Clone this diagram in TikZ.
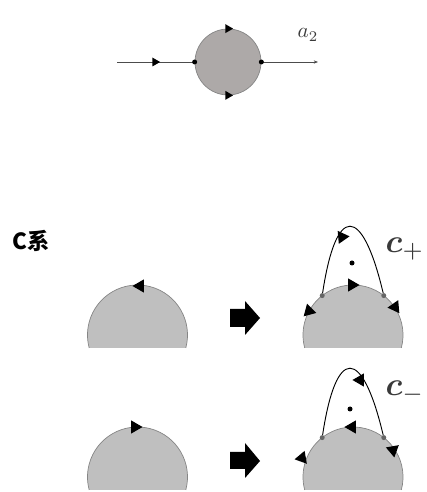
\documentclass[tikz,border=0pt]{standalone}
\usepackage{fontspec}
\usepackage{amsmath}
\newfontfamily\cjk{Noto Sans CJK SC}
\usetikzlibrary{shapes.geometric,arrows.meta}
\definecolor{blobA}{HTML}{ADA9A8}
\definecolor{blobB}{HTML}{BFBFBF}
\definecolor{rim}{HTML}{858585}
\definecolor{ink}{HTML}{3A3A3A}
\tikzset{
  tri/.style={isosceles triangle,isosceles triangle apex angle=60,fill=black,inner sep=0pt,minimum size=3.4mm},
  smalltri/.style={tri,minimum size=2.3mm},
  knot/.style={circle,fill=#1,inner sep=0pt,minimum size=1.5mm},
  wire/.style={draw=black!70,line width=0.5pt},
  loop/.style={draw=black,line width=0.8pt},
  biglabel/.style={text=ink,inner sep=0pt},
}
\begin{document}
\begin{tikzpicture}[x=0.3mm,y=0.3mm]
\useasboundingbox (0,0) rectangle (426,492);

% top
\coordinate (in) at (117,430);
\coordinate (out) at (318,430);
\node[circle,draw=rim,fill=blobA,line width=0.6pt,minimum size=19.8mm,inner sep=0pt] (S) at (228,430) {};
\draw[wire] (in) -- (S.west);
\draw[wire,-{Stealth[length=1.3mm,width=1mm]}] (S.east) -- (out);
\node[knot=black] (s1) at (S.west) {};
\node[knot=black] (s2) at (S.east) {};
\node[smalltri] (t1) at (155,430) {};
\node[smalltri] (t2) at (S.north) {};
\node[smalltri] (t3) at (S.south) {};
\node[biglabel] (a2) at (308,457) {\scalebox{1.8}{$a_2$}};

\node[font=\cjk\bfseries\fontsize{19}{22}\selectfont] (sys) at (31,251) {C系};

% C+
\coordinate (L1) at (137.5,157);
\coordinate (R1) at (353,157);
\fill[blobB] ([shift={(-15:50)}]L1) arc (-15:195:50) -- cycle;
\draw[rim,line width=0.6pt] ([shift={(-15:50)}]L1) arc (-15:195:50);
\fill[blobB] ([shift={(-15:50)}]R1) arc (-15:195:50) -- cycle;
\draw[rim,line width=0.6pt] ([shift={(-15:50)}]R1) arc (-15:195:50);
\node[tri,rotate=180] (u1) at (140,206) {};
\fill (230,165) -- (245,165) -- (245,157) -- (260,174) -- (245,191) -- (245,183) -- (230,183) -- cycle;
\node[knot=black!60] (p1) at ([shift={(128:50)}]R1) {};
\node[knot=black!60] (p2) at ([shift={(52:50)}]R1) {};
\draw[loop] (p1) .. controls (336,288) and (362,288) .. (p2);
\node[tri,rotate=245] (u2) at (342,255) {};
\node[knot=black] (d1) at (352,229) {};
\node[tri] (u3) at (352,207) {};
\node[tri,rotate=225] (u4) at (309,181) {};
\node[tri,rotate=-55] (u5) at (395,185) {};
\node[biglabel] (cp) at (405,243) {\scalebox{2.8}{$\boldsymbol{c}_+$}};

% C-
\coordinate (L2) at (137.5,15);
\coordinate (R2) at (353,15);
\fill[blobB] ([shift={(-15:50)}]L2) arc (-15:195:50) -- cycle;
\draw[rim,line width=0.6pt] ([shift={(-15:50)}]L2) arc (-15:195:50);
\fill[blobB] ([shift={(-15:50)}]R2) arc (-15:195:50) -- cycle;
\draw[rim,line width=0.6pt] ([shift={(-15:50)}]R2) arc (-15:195:50);
\node[tri] (v1) at (135,65) {};
\fill (230,23) -- (245,23) -- (245,14) -- (260,31) -- (245,49) -- (245,40) -- (230,40) -- cycle;
\node[knot=black!60] (q1) at ([shift={(128:50)}]R2) {};
\node[knot=black!60] (q2) at ([shift={(52:50)}]R2) {};
\draw[loop] (q1) .. controls (336,146) and (362,146) .. (q2);
\node[tri,rotate=-60] (v2) at (360,112) {};
\node[knot=black] (d2) at (350,83) {};
\node[tri,rotate=180] (v3) at (352,65) {};
\node[tri,rotate=190] (v4) at (302,34) {};
\node[tri,rotate=160] (v5) at (393,42) {};
\node[biglabel] (cm) at (405,100) {\scalebox{2.8}{$\boldsymbol{c}_-$}};
\end{tikzpicture}
\end{document}
